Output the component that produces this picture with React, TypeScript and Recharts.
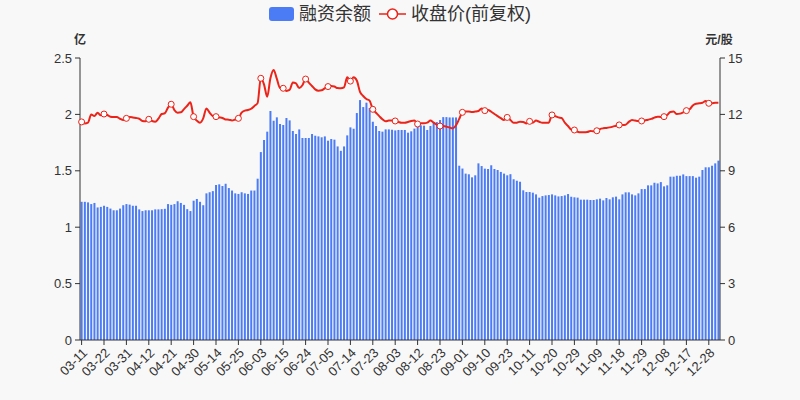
import React from "react";
import { ComposedChart, Bar, Line, XAxis, YAxis } from "recharts";

const dates = [
  "03-11","03-12","03-15","03-16","03-17","03-18","03-19","03-22","03-23","03-24","03-25","03-26","03-29","03-30","03-31",
  "04-01","04-02","04-06","04-07","04-08","04-09","04-12","04-13","04-14","04-15","04-16","04-19","04-20","04-21","04-22","04-23","04-26","04-27","04-28","04-29","04-30",
  "05-06","05-07","05-10","05-11","05-12","05-13","05-14","05-17","05-18","05-19","05-20","05-21","05-24","05-25","05-26","05-27","05-28","05-31",
  "06-01","06-02","06-03","06-04","06-07","06-08","06-09","06-10","06-11","06-15","06-16","06-17","06-18","06-21","06-22","06-23","06-24","06-25","06-28","06-29","06-30",
  "07-01","07-02","07-05","07-06","07-07","07-08","07-09","07-12","07-13","07-14","07-15","07-16","07-19","07-20","07-21","07-22","07-23","07-26","07-27","07-28","07-29","07-30",
  "08-02","08-03","08-04","08-05","08-06","08-09","08-10","08-11","08-12","08-13","08-16","08-17","08-18","08-19","08-20","08-23","08-24","08-25","08-26","08-27","08-30","08-31",
  "09-01","09-02","09-03","09-06","09-07","09-08","09-09","09-10","09-13","09-14","09-15","09-16","09-17","09-22","09-23","09-24","09-27","09-28","09-29","09-30",
  "10-08","10-11","10-12","10-13","10-14","10-15","10-18","10-19","10-20","10-21","10-22","10-25","10-26","10-27","10-28","10-29",
  "11-01","11-02","11-03","11-04","11-05","11-08","11-09","11-10","11-11","11-12","11-15","11-16","11-17","11-18","11-19","11-22","11-23","11-24","11-25","11-26","11-29","11-30",
  "12-01","12-02","12-03","12-06","12-07","12-08","12-09","12-10","12-13","12-14","12-15","12-16","12-17","12-20","12-21","12-22","12-23","12-24","12-27","12-28","12-29","12-30","12-31",
];

// 融资余额 (亿)
const marginBalance = [
  1.225,1.225,1.22,1.205,1.215,1.175,1.18,1.19,1.18,1.165,
  1.15,1.15,1.165,1.195,1.205,1.2,1.19,1.19,1.158,1.143,
  1.15,1.15,1.15,1.158,1.158,1.16,1.163,1.205,1.198,1.205,
  1.23,1.215,1.198,1.16,1.143,1.235,1.25,1.225,1.195,1.30,
  1.31,1.32,1.374,1.38,1.365,1.385,1.347,1.325,1.30,1.295,
  1.31,1.30,1.295,1.325,1.325,1.43,1.666,1.773,1.847,2.03,
  1.944,1.974,1.915,1.906,1.968,1.947,1.853,1.826,1.867,1.791,
  1.791,1.791,1.826,1.811,1.805,1.797,1.805,1.767,1.782,1.776,
  1.716,1.677,1.716,1.814,1.885,1.873,2.012,2.127,2.065,2.104,
  2.057,1.935,1.897,1.853,1.847,1.867,1.867,1.864,1.858,1.862,
  1.862,1.862,1.838,1.85,1.874,1.891,1.903,1.9,1.862,1.897,
  1.932,1.932,1.95,1.976,1.976,1.973,1.973,1.973,1.545,1.52,
  1.475,1.469,1.442,1.46,1.566,1.542,1.519,1.516,1.549,1.516,
  1.507,1.49,1.475,1.46,1.47,1.425,1.412,1.403,1.327,1.312,
  1.312,1.306,1.291,1.262,1.276,1.282,1.285,1.291,1.282,1.273,
  1.276,1.282,1.294,1.27,1.265,1.262,1.244,1.244,1.244,1.241,
  1.241,1.247,1.253,1.238,1.259,1.247,1.265,1.271,1.247,1.291,
  1.309,1.309,1.291,1.282,1.3,1.338,1.338,1.371,1.371,1.394,
  1.388,1.4,1.362,1.371,1.448,1.448,1.456,1.456,1.468,1.453,
  1.453,1.453,1.439,1.448,1.507,1.531,1.531,1.545,1.566,1.59,
];

// 收盘价(前复权) (元/股)
const closePrice = [
  11.6,11.52,11.56,12.0,11.91,12.09,11.95,12.02,11.97,11.88,
  11.86,11.86,11.77,11.7,11.79,11.86,11.84,11.81,11.77,11.65,
  11.63,11.74,11.65,11.61,11.77,12.02,12.06,12.36,12.54,12.23,
  12.09,12.11,12.28,12.46,12.64,11.88,11.67,11.56,11.79,12.32,
  12.09,11.91,11.88,11.84,11.81,11.73,11.72,11.68,11.73,11.79,
  12.09,12.2,12.23,12.3,12.45,12.6,13.92,13.6,12.94,13.92,
  14.36,13.9,13.4,13.39,13.25,13.3,13.7,13.65,13.4,13.55,
  13.88,13.69,13.51,13.33,13.26,13.28,13.39,13.48,13.51,13.48,
  13.4,13.39,13.44,13.97,13.77,13.97,13.8,13.2,12.98,12.82,
  12.73,12.27,12.09,11.91,11.74,11.63,11.67,11.67,11.65,11.6,
  11.56,11.56,11.6,11.65,11.67,11.49,11.53,11.53,11.56,11.67,
  11.56,11.45,11.38,11.38,11.35,11.3,11.26,11.42,11.76,12.11,
  12.15,12.15,12.13,12.15,12.18,12.32,12.2,12.23,12.14,12.02,
  11.91,11.8,11.7,11.84,11.7,11.56,11.56,11.61,11.6,11.52,
  11.63,11.56,11.67,11.61,11.56,11.56,11.56,11.97,11.91,11.84,
  11.81,11.56,11.38,11.2,11.17,11.08,11.05,11.05,11.06,11.12,
  11.1,11.13,11.22,11.26,11.28,11.31,11.35,11.4,11.44,11.44,
  11.45,11.6,11.7,11.67,11.65,11.65,11.67,11.72,11.76,11.83,
  11.88,11.86,11.88,11.97,12.13,12.15,12.02,12.04,12.11,12.2,
  12.27,12.48,12.57,12.59,12.62,12.71,12.59,12.59,12.62,12.62,
];

const leftTicks = [0, 0.5, 1, 1.5, 2, 2.5];
const rightTicks = [0, 3, 6, 9, 12, 15];

const BAR_COLOR = "#4b7bf5";
const LINE_COLOR = "#eb2318";
const AXIS_COLOR = "#333";

const chartData = dates.map((d, i) => ({
  date: d,
  margin: marginBalance[i],
  close: closePrice[i],
}));

const renderDot = (props: any) => {
  const { cx, cy, index } = props;
  if (index % 7 !== 0) return <g key={`d${index}`} />;
  return (
    <circle
      key={`d${index}`}
      cx={cx}
      cy={cy}
      r={3}
      fill="#fff"
      stroke={LINE_COLOR}
      strokeWidth={1}
    />
  );
};

export default function App() {
  const font = "'Liberation Sans', 'Noto Sans CJK SC', sans-serif";
  return (
    <div
      style={{
        position: "absolute",
        left: 0,
        top: 0,
        width: 800,
        height: 400,
        background: "#f8f8f8",
        fontFamily: font,
      }}
    >
      <div
        style={{
          position: "absolute",
          top: 3,
          left: 0,
          width: 800,
          height: 22,
          display: "flex",
          justifyContent: "center",
          alignItems: "center",
          fontSize: 18,
          color: "#333",
          lineHeight: "22px",
        }}
      >
        <span
          style={{
            display: "inline-block",
            width: 25,
            height: 14,
            borderRadius: 3,
            background: BAR_COLOR,
            marginRight: 5,
          }}
        />
        <span>融资余额</span>
        <svg width={27} height={14} style={{ marginLeft: 8, marginRight: 5 }}>
          <line x1={0} y1={7} x2={27} y2={7} stroke={LINE_COLOR} strokeWidth={1.5} />
          <circle cx={13.5} cy={7} r={5} fill="#fff" stroke={LINE_COLOR} strokeWidth={1.5} />
        </svg>
        <span>收盘价(前复权)</span>
      </div>
      <div
        style={{
          position: "absolute",
          left: 60,
          width: 40,
          top: 30,
          textAlign: "center",
          fontSize: 12,
          fontWeight: "bold",
          color: "#333",
        }}
      >
        亿
      </div>
      <div
        style={{
          position: "absolute",
          left: 694,
          width: 50,
          top: 30,
          textAlign: "center",
          fontSize: 12,
          fontWeight: "bold",
          color: "#333",
        }}
      >
        元/股
      </div>
      <ComposedChart
        width={800}
        height={400}
        data={chartData}
        margin={{ top: 58, right: 40, bottom: 0, left: 40 }}
        barCategoryGap="20%"
      >
        <XAxis
          dataKey="date"
          interval={6}
          angle={-45}
          textAnchor="end"
          height={60}
          tickSize={5}
          tickMargin={2}
          stroke={AXIS_COLOR}
          tick={{ fontSize: 13, fill: "#333" }}
        />
        <YAxis
          yAxisId="left"
          orientation="left"
          width={40}
          domain={[0, 2.5]}
          ticks={leftTicks}
          tickSize={5}
          tickMargin={3}
          stroke={AXIS_COLOR}
          tick={{ fontSize: 13, fill: "#333" }}
          allowDataOverflow
        />
        <YAxis
          yAxisId="right"
          orientation="right"
          width={40}
          domain={[0, 15]}
          ticks={rightTicks}
          tickSize={5}
          tickMargin={3}
          stroke={AXIS_COLOR}
          tick={{ fontSize: 13, fill: "#333" }}
          allowDataOverflow
        />
        <Bar
          yAxisId="left"
          dataKey="margin"
          fill={BAR_COLOR}
          isAnimationActive={false}
        />
        <Line
          yAxisId="right"
          type="monotone"
          dataKey="close"
          stroke={LINE_COLOR}
          strokeWidth={2}
          dot={renderDot}
          activeDot={false}
          isAnimationActive={false}
        />
      </ComposedChart>
    </div>
  );
}
